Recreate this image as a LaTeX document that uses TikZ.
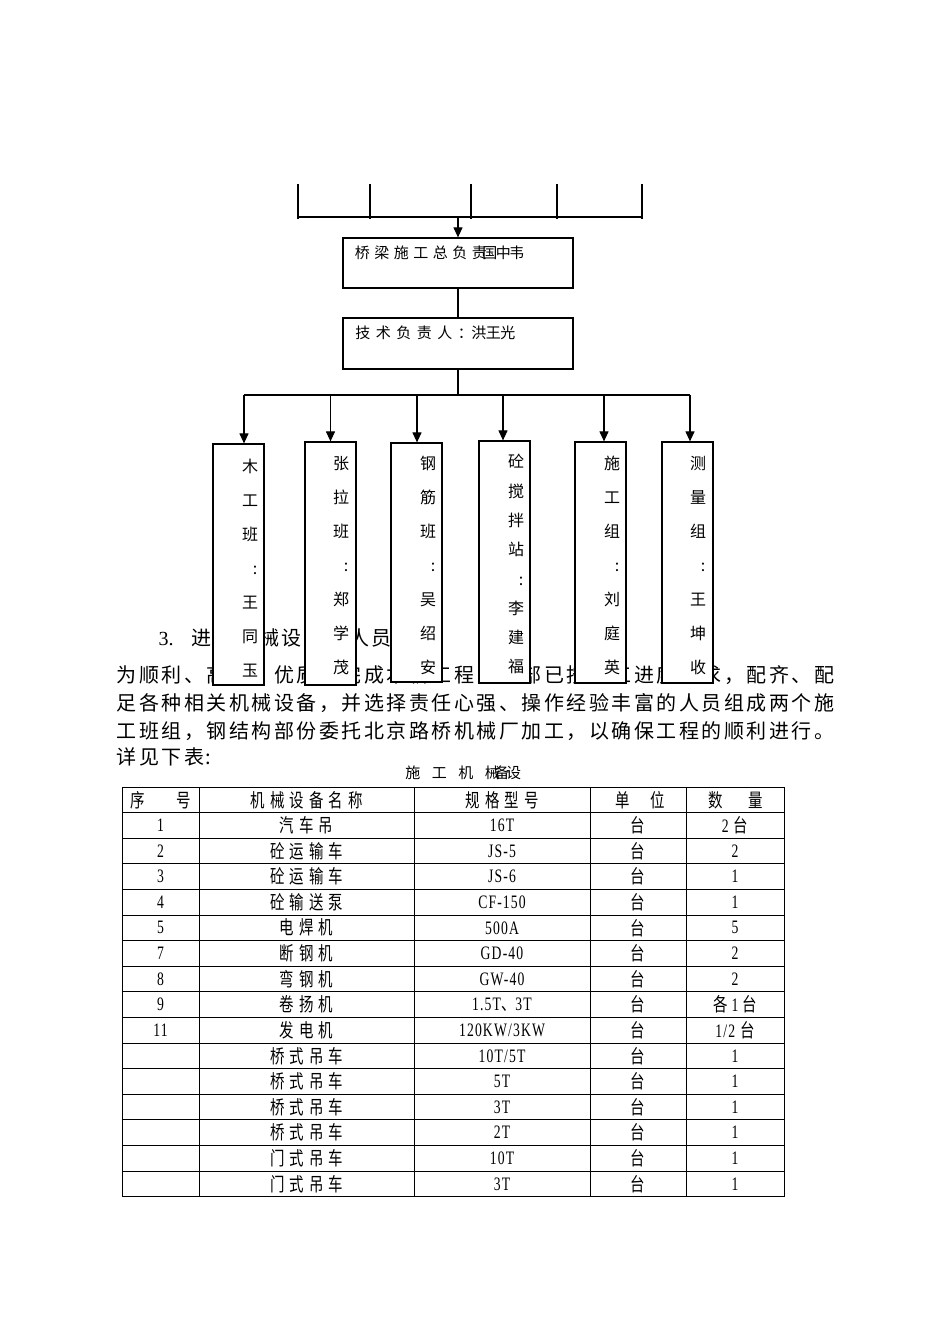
\documentclass[tikz,border=0pt]{standalone}
\usepackage{fontspec}
\setmainfont{Liberation Serif}
\newfontfamily\cjk{Noto Sans CJK SC}
\newfontfamily\cjkc[FakeStretch=0.76]{Noto Sans CJK SC}
\newfontfamily\latc[FakeStretch=0.72,LetterSpace=6]{Liberation Serif}
\usetikzlibrary{arrows.meta}
\makeatletter
\newcommand\spr[2]{\def\spr@w{#1}\spr@loop#2\spr@end}
\def\spr@end{\spr@end}
\def\spr@loop#1{\ifx#1\spr@end\else\makebox[\spr@w][c]{#1}\expandafter\spr@loop\fi}
\makeatother
\newcommand\trow[5]{%
  \node[tcell] (r#1a) at (160.5,{799.8+25.6*#1}) {\latc #2};
  \node[tcell] (r#1b) at (306.5,{799.8+25.6*#1}) {\cjkc\spr{19.5pt}{#3}};
  \node[tcell] (r#1c) at (502,{799.8+25.6*#1}) {\latc #4};
  \node[tcell] (r#1d) at (638,{799.8+25.6*#1}) {\cjkc 台};
  \node[tcell] (r#1e) at (735,{799.8+25.6*#1}) {#5};
}
\begin{document}
\begin{tikzpicture}[x=1pt,y=-1pt,line width=1.1pt,
  bx/.style={draw,fill=white,inner sep=0,line width=1.2pt},
  arr/.style={-{Triangle[length=10pt,width=9pt]}},
  txt/.style={inner sep=0,font=\cjk\fontsize{15}{17}\selectfont},
  vt/.style={inner sep=0,anchor=north,align=center,font=\cjk\fontsize{16}{34}\selectfont},
  vtb/.style={inner sep=0,anchor=north,align=center,font=\cjk\fontsize{16}{29.3}\selectfont},
  para/.style={inner sep=0,anchor=base west,font=\cjk\fontsize{20}{24}\selectfont},
  tcell/.style={inner sep=0,anchor=center,font=\fontsize{19}{21}\selectfont},
  tline/.style={line width=0.9pt}]
\useasboundingbox (0,0) rectangle (950,1344);

% paragraph text (drawn first, partly hidden by the boxes)
\node[para] (p0) at (158,645.6) {\makebox[31.75pt][l]{\rmfamily 3.}\spr{22.5pt}{进场机械设备及人员}};
\node[para] (p1) at (115,682.6) {\spr{22.5pt}{为顺利、高效、优质地完成本桥工程，我部已按施工进度要求，配齐、配}};
\node[para] (p2) at (115,710.6) {\spr{22.5pt}{足各种相关机械设备，并选择责任心强、操作经验丰富的人员组成两个施}};
\node[para] (p3) at (115,738.6) {\spr{22.5pt}{工班组，钢结构部份委托北京路桥机械厂加工，以确保工程的顺利进行。}};
\node[para] (p4) at (115,764.6) {\spr{22.5pt}{详见下表}:};

% top bar
\coordinate (tk1) at (298,184);
\coordinate (tk2) at (370,184);
\coordinate (tk3) at (471,184);
\coordinate (tk4) at (557,184);
\coordinate (tk5) at (642,184);
\foreach \k in {1,...,5} \draw (tk\k) -- ++(0,35);
\coordinate (barL) at (298,217);
\coordinate (barR) at (642,217);
\coordinate (hbar) at (458,217);
\draw (barL) -- (barR);

% leader boxes
\node[bx,minimum width=230,minimum height=50] (lead) at (458,263) {};
\node[bx,minimum width=230,minimum height=51] (tech) at (458,343.5) {};
\node[txt,anchor=base west] (leadt) at (352,258.7) {\spr{19.5pt}{桥梁施工总负责}\hspace{-6pt}\spr{13.5pt}{国中韦}};
\node[txt,anchor=base west] (techt) at (352,338.7) {\spr{20.5pt}{技术负责人：}\hspace{-4pt}\spr{14.5pt}{洪王光}};
\draw[arr] (hbar) -- (lead.north);
\draw (lead.south) -- (tech.north);

% bus
\coordinate (hub) at (458,395);
\coordinate (a1) at (244,395);
\coordinate (a2) at (330.5,395);
\coordinate (a3) at (417,395);
\coordinate (a4) at (503,395);
\coordinate (a5) at (604,395);
\coordinate (a6) at (690,395);
\draw (tech.south) -- (hub);
\draw (a1) -- (a6);

% group boxes
\node[bx,minimum width=51,minimum height=241] (g1) at (238.5,564.5) {};
\node[bx,minimum width=51,minimum height=243] (g2) at (330.5,563.5) {};
\node[bx,minimum width=51,minimum height=239] (g3) at (416.5,562.5) {};
\node[bx,minimum width=51,minimum height=242] (g4) at (504.5,562) {};
\node[bx,minimum width=51,minimum height=241] (g5) at (600.5,562.5) {};
\node[bx,minimum width=51,minimum height=241] (g6) at (687.5,562.5) {};
\foreach \k in {1,...,6} \draw[arr] (a\k) -- (a\k |- g\k.north);

\node[vt] (g1t) at (250,458.8) {木\\工\\班\\\hspace*{10pt}:\\王\\同\\玉};
\node[vt] (g2t) at (341,456.1) {张\\拉\\班\\\hspace*{10pt}:\\郑\\学\\茂};
\node[vt] (g3t) at (428,455.8) {钢\\筋\\班\\\hspace*{10pt}:\\吴\\绍\\安};
\node[vtb] (g4t) at (516,453.8) {砼\\搅\\拌\\站\\\hspace*{10pt}:\\李\\建\\福};
\node[vt] (g5t) at (612,455.8) {施\\工\\组\\\hspace*{10pt}:\\刘\\庭\\英};
\node[vt] (g6t) at (698,455.8) {测\\量\\组\\\hspace*{10pt}:\\王\\坤\\收};

% table title
\node[inner sep=0,anchor=base west,font=\cjk\fontsize{15}{17}\selectfont] (ttl) at (399,778.7)
  {\spr{26.5pt}{施工机械}\hspace{-8pt}\makebox[9pt]{备}\makebox[14pt]{设}};

% table grid
\foreach \x in {122,199,414,590,686,784} \draw[tline] (\x,787) -- (\x,1196.6);
\foreach \i in {0,...,16} \draw[tline] (122,{787+25.6*\i}) -- (784,{787+25.6*\i});

% header
\node[tcell] (h1) at (160.5,799.8) {\cjkc 序\hspace{32pt}号};
\node[tcell] (h2) at (306.5,799.8) {\cjkc\spr{19.5pt}{机械设备名称}};
\node[tcell] (h3) at (502,799.8) {\cjkc\spr{19.5pt}{规格型号}};
\node[tcell] (h4) at (640,799.8) {\cjkc 单\hspace{20pt}位};
\node[tcell] (h5) at (735.5,799.8) {\cjkc 数\hspace{25pt}量};

\trow{1}{1}{汽车吊}{16T}{{\latc 2}\hspace{5pt}{\cjkc 台}}
\trow{2}{2}{砼运输车}{JS-5}{\latc 2}
\trow{3}{3}{砼运输车}{JS-6}{\latc 1}
\trow{4}{4}{砼输送泵}{CF-150}{\latc 1}
\trow{5}{5}{电焊机}{500A}{\latc 5}
\trow{6}{7}{断钢机}{GD-40}{\latc 2}
\trow{7}{8}{弯钢机}{GW-40}{\latc 2}
\trow{8}{9}{卷扬机}{1.5T{\cjkc 、}3T}{{\cjkc 各}\hspace{4pt}{\latc 1}\hspace{4pt}{\cjkc 台}}
\trow{9}{11}{发电机}{120KW/3KW}{{\latc 1/2}\hspace{5pt}{\cjkc 台}}
\trow{10}{}{桥式吊车}{10T/5T}{\latc 1}
\trow{11}{}{桥式吊车}{5T}{\latc 1}
\trow{12}{}{桥式吊车}{3T}{\latc 1}
\trow{13}{}{桥式吊车}{2T}{\latc 1}
\trow{14}{}{门式吊车}{10T}{\latc 1}
\trow{15}{}{门式吊车}{3T}{\latc 1}
\end{tikzpicture}
\end{document}
